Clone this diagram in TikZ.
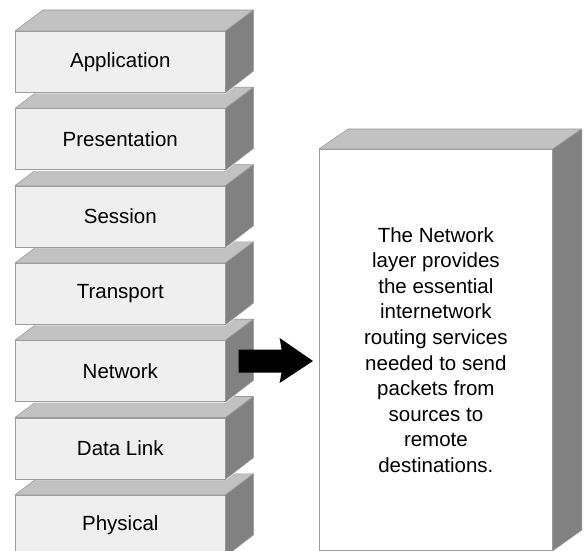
\documentclass[tikz,border=0pt]{standalone}
\usepackage{fontspec}
\setmainfont{Liberation Sans}
\definecolor{facefront}{HTML}{EFEFEF}
\definecolor{facetop}{HTML}{C2C2C2}
\definecolor{faceside}{HTML}{818181}
\definecolor{faceline}{HTML}{9C9C9C}
\tikzset{
  layerface/.style={draw=faceline, line width=0.6pt, fill=facefront,
    minimum width=210pt, minimum height=61pt, inner sep=0pt, anchor=north west,
    font=\fontsize{20.5}{25.6}\selectfont},
  topface/.style={draw=faceline, line width=0.6pt, fill=facetop, line join=round},
  sideface/.style={draw=faceline, line width=0.6pt, fill=faceside, line join=round},
  halo/.style={draw=white, line width=3pt, line join=round},
  infobox/.style={draw=faceline, line width=0.8pt, fill=white,
    minimum width=233pt, minimum height=401pt, inner sep=0pt, anchor=north west,
    align=center, font=\fontsize{20.5}{25.6}\selectfont},
}
% one slab of the stack: name, top edge of the front face, label
\newcommand\osilayer[3]{%
  \draw[halo] (15,{#2+61}) -- (15,#2) -- (43,{#2-21}) -- (253,{#2-21})
    -- (253,{#2+40}) -- (225,{#2+61}) -- cycle;
  \node[layerface] (#1) at (15,#2) {#3};
  \filldraw[topface] (#1.north west) -- ++(28pt,21pt) -- ++(210pt,0pt)
    -- (#1.north east) -- cycle;
  \filldraw[sideface] (#1.north east) -- ++(28pt,21pt) -- ++(0pt,-61pt)
    -- (#1.south east) -- cycle;
}
\begin{document}
\begin{tikzpicture}[x=1pt,y=-1pt]
\useasboundingbox[fill=white] (0,0) rectangle (587,551);

% the seven layers, drawn from the bottom up so each covers the one below
\osilayer{physical}{494.8}{Physical}
\osilayer{datalink}{417.5}{Data Link}
\osilayer{network}{340.2}{Network}
\osilayer{transport}{262.9}{Transport}
\osilayer{session}{185.6}{Session}
\osilayer{presentation}{108.3}{Presentation}
\osilayer{application}{31}{Application}

% description block
\node[infobox] (desc) at (319,149) {The Network\\layer provides\\the essential\\internetwork\\routing services\\needed to send\\packets from\\sources to\\remote\\destinations.};
\filldraw[topface, draw=faceline] (desc.north west) -- ++(29pt,20pt) -- ++(233pt,0pt)
  -- (desc.north east) -- cycle;
\filldraw[sideface] (desc.north east) -- ++(29pt,20pt) -- ++(0pt,-401pt)
  -- (desc.south east) -- cycle;

% block arrow from the Network layer to the description
\coordinate (arrtail) at ([shift={(13pt,10pt)}]network.east);
\coordinate (arrtip) at ([xshift=-6pt]desc.west |- arrtail);
\fill[black] ([yshift=11.5pt]arrtail) -- ([shift={(43pt,11.5pt)}]arrtail)
  -- ([shift={(41pt,23pt)}]arrtail) -- (arrtip)
  -- ([shift={(41pt,-22pt)}]arrtail) -- ([shift={(43pt,-11.5pt)}]arrtail)
  -- ([yshift=-11.5pt]arrtail) -- cycle;
\end{tikzpicture}
\end{document}
